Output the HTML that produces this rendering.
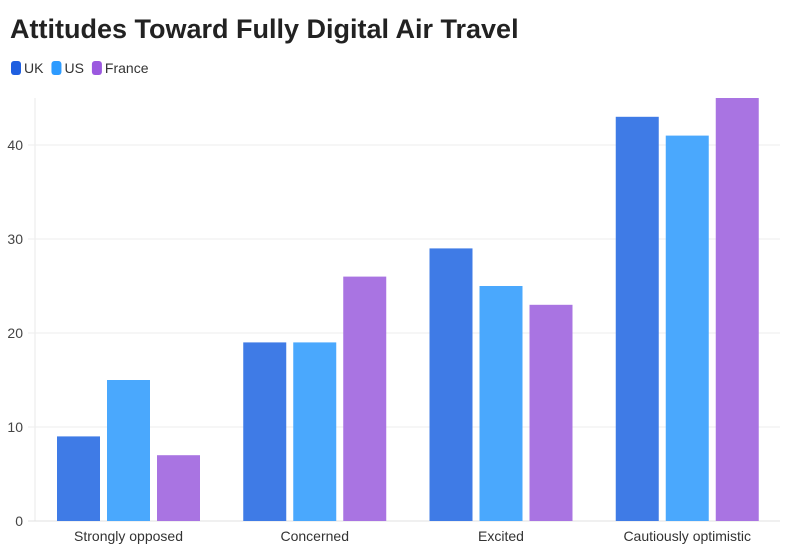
<!DOCTYPE html>
<html><head><meta charset="utf-8"><style>
body{margin:0;width:794px;height:554px;background:#fff;font-family:"Liberation Sans",sans-serif;overflow:hidden}
</style></head><body>
<svg width="794" height="554">
<text x="10" y="38" font-size="27" font-weight="bold" fill="#222">Attitudes Toward Fully Digital Air Travel</text>
<g id="legend"></g>
<g id="grid"></g>
<g id="bars"></g>
<g id="xlabels"></g>
</svg>
<script>
const categories=["Strongly opposed","Concerned","Excited","Cautiously optimistic"];
const seriesNames=["UK","US","France"];
const ukValues=[9,19,29,43];
const usValues=[15,19,25,41];
const franceValues=[7,26,23,45];
const yTicks=[0,10,20,30,40];
const colors=["#3f7be6","#4aa8fd","#a974e2"];
const legendColors=["#1f5fe0","#2d9bff","#9b59df"];
const NS="http://www.w3.org/2000/svg";
const L=35,R=780,T=98,B=521,yMax=45;
const y=v=>B-(v/yMax)*(B-T);
const band=(R-L)/categories.length;
function mk(tag,attrs,parent){const e=document.createElementNS(NS,tag);for(const k in attrs)e.setAttribute(k,attrs[k]);parent.appendChild(e);return e;}
const grid=document.getElementById('grid');
let vl=mk('line',{x1:L,x2:L,y1:T,y2:B,stroke:'#e8e8e8'},grid);


yTicks.forEach(t=>{
  const g=mk('line',{x1:28,x2:R,y1:y(t),y2:y(t),stroke:t===0?'#e0e0e0':'#eeeeee'},grid);
  
  
  const tx=mk('text',{x:23,y:y(t)+5,'text-anchor':'end','font-size':14,fill:'#444'},grid);
  tx.textContent=t;
  
  
});
const all=[ukValues,usValues,franceValues];
const bars=document.getElementById('bars');
const bw=43,gap=7;
categories.forEach((c,i)=>{
  const x0=L+band*i+22;
  all.forEach((s,j)=>{
    const r=mk('rect',{x:x0+j*(bw+gap),y:y(s[i]),width:bw,height:B-y(s[i]),fill:colors[j]},bars);
    
    
  });
  const t=mk('text',{x:x0+(3*bw+2*gap)/2,y:541,'text-anchor':'middle','font-size':14,fill:'#333'},document.getElementById('xlabels'));
  t.textContent=c;
  
  
});
const lg=document.getElementById('legend');
let lx=11;
seriesNames.forEach((n,j)=>{
  const r=mk('rect',{x:lx,y:61,width:10,height:14,rx:3,fill:legendColors[j]},lg);
  
  
  const t=mk('text',{x:lx+13,y:73,'font-size':14,fill:'#333'},lg);
  t.textContent=n;
  
  
  lx+=13+t.getComputedTextLength()+8;
});
</script>
</body></html>
